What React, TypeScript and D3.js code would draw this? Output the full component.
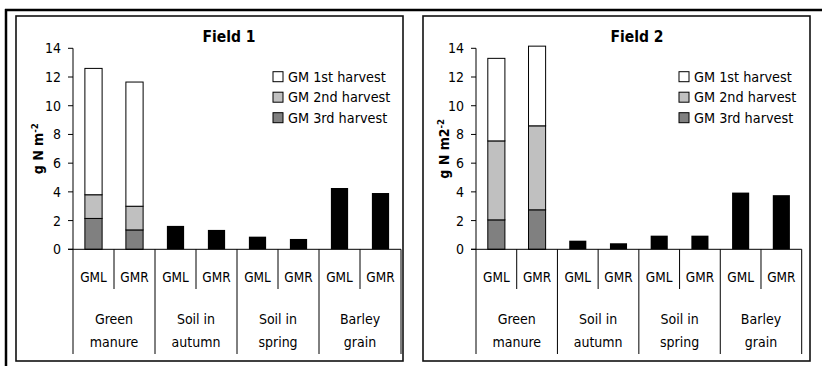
import React from 'react';
import * as d3 from 'd3';

const bars = ['GML', 'GMR', 'GML', 'GMR', 'GML', 'GMR', 'GML', 'GMR'];
const groups = [['Green', 'manure'], ['Soil in', 'autumn'], ['Soil in', 'spring'], ['Barley', 'grain']];
const legendLabels = ['GM 1st harvest', 'GM 2nd harvest', 'GM 3rd harvest'];
const yTicks = [0, 2, 4, 6, 8, 10, 12, 14];

// green manure stacks (GML, GMR), bottom to top: 3rd, 2nd, 1st harvest
const f1Harvest3 = [2.15, 1.35];
const f1Harvest2 = [1.65, 1.65];
const f1Harvest1 = [8.8, 8.65];
const f1SoilAutumn = [1.63, 1.35];
const f1SoilSpring = [0.88, 0.72];
const f1Barley = [4.27, 3.92];

const f2Harvest3 = [2.05, 2.75];
const f2Harvest2 = [5.5, 5.85];
const f2Harvest1 = [5.75, 5.55];
const f2SoilAutumn = [0.6, 0.42];
const f2SoilSpring = [0.95, 0.95];
const f2Barley = [3.95, 3.77];

const harvestColors = ['#ffffff', '#c0c0c0', '#808080'];
const FONT = "'DejaVu Sans Condensed', 'DejaVu Sans', sans-serif";

type PanelProps = {
  title: string;
  yLabel: string;
  yLabelSup: string;
  box: [number, number, number, number];
  plot: { left: number; right: number; top: number; bottom: number };
  titleX: number;
  yLabelX: number;
  legendX: number;
  h3: number[];
  h2: number[];
  h1: number[];
  soilAutumn: number[];
  soilSpring: number[];
  barley: number[];
};

function Panel(p: PanelProps) {
  const { plot } = p;
  const x = d3.scaleBand<number>().domain(d3.range(bars.length)).range([plot.left, plot.right]);
  const y = d3.scaleLinear().domain([0, 14]).range([plot.bottom, plot.top]);
  const slot = x.bandwidth();
  const bw = slot * 0.42;

  // stacked green manure bars
  const stackRows = [0, 1].map(i => ({ i, h3: p.h3[i], h2: p.h2[i], h1: p.h1[i] }));
  const series = d3.stack<any>().keys(['h3', 'h2', 'h1'])(stackRows);
  const stackFill = [harvestColors[2], harvestColors[1], harvestColors[0]];

  const solid = [...p.soilAutumn, ...p.soilSpring, ...p.barley];

  const [bx, by, bW, bH] = p.box;
  const sepBottom = 354;
  const subBottom = 289;

  return (
    <g>
      <rect x={bx} y={by} width={bW} height={bH} fill="#fff" stroke="#111" strokeWidth={1.6} />
      <text x={p.titleX} y={41.5} textAnchor="middle" fontFamily={FONT} fontWeight="bold" fontSize={15.5}>
        {p.title}
      </text>

      {/* y axis */}
      <line x1={plot.left} x2={plot.left} y1={y(14)} y2={y(0)} stroke="#000" strokeWidth={1} />
      {yTicks.map(t => (
        <g key={t}>
          <line x1={plot.left - 5} x2={plot.left} y1={y(t)} y2={y(t)} stroke="#000" />
          <text x={plot.left - 12} y={y(t) + 5} textAnchor="end" fontFamily={FONT} fontSize={14}>
            {t}
          </text>
        </g>
      ))}
      <text
        transform={`translate(${p.yLabelX},${(y(14) + y(0)) / 2}) rotate(-90)`}
        textAnchor="middle"
        fontFamily={FONT}
        fontWeight="bold"
        fontSize={14}
      >
        {p.yLabel}
        <tspan dy={-5} fontSize={9.5}>{p.yLabelSup}</tspan>
      </text>

      {/* bars */}
      {series.map((s, k) =>
        s.map((d, i) => (
          <rect
            key={`s${k}-${i}`}
            x={x(i)! + (slot - bw) / 2}
            y={y(d[1])}
            width={bw}
            height={y(d[0]) - y(d[1])}
            fill={stackFill[k]}
            stroke="#000"
            strokeWidth={1}
          />
        ))
      )}
      {solid.map((v, j) => (
        <rect
          key={`b${j}`}
          x={x(j + 2)! + (slot - bw) / 2}
          y={y(v)}
          width={bw}
          height={y(0) - y(v)}
          fill="#000"
        />
      ))}

      {/* x axis */}
      <line x1={plot.left - 5} x2={plot.right} y1={y(0)} y2={y(0)} stroke="#000" strokeWidth={1} />
      {d3.range(bars.length + 1).map(k => {
        const xx = k === bars.length ? plot.right : x(k)!;
        const long = k % 2 === 0;
        return (
          <line key={`sep${k}`} x1={xx} x2={xx} y1={y(0)} y2={long ? sepBottom : subBottom} stroke="#000" strokeWidth={1} />
        );
      })}
      {bars.map((b, i) => (
        <text key={`c${i}`} x={x(i)! + slot / 2} y={281.5} textAnchor="middle" fontFamily={FONT} fontSize={13.5}>
          {b}
        </text>
      ))}
      {groups.map((g, gi) => (
        <text key={`g${gi}`} x={x(gi * 2)! + slot} textAnchor="middle" fontFamily={FONT} fontSize={14}>
          <tspan x={x(gi * 2)! + slot} y={324}>{g[0]}</tspan>
          <tspan x={x(gi * 2)! + slot} y={346.5}>{g[1]}</tspan>
        </text>
      ))}

      {/* legend */}
      {legendLabels.map((l, i) => (
        <g key={l} transform={`translate(${p.legendX},${76.7 + i * 20.5})`}>
          <rect x={0} y={-5} width={10} height={10} fill={harvestColors[i]} stroke="#000" strokeWidth={1} />
          <text x={15} y={5} fontFamily={FONT} fontSize={14.3}>
            {l}
          </text>
        </g>
      ))}
    </g>
  );
}

export default function App() {
  return (
    <div style={{ position: 'fixed', left: 0, top: 0 }}>
      <svg width={822} height={366} style={{ display: 'block', background: '#fff' }}>
        <line x1={5} x2={822} y1={10} y2={10} stroke="#000" strokeWidth={2.5} />
        <line x1={6} x2={6} y1={9} y2={366} stroke="#000" strokeWidth={2.5} />
        <Panel
          title="Field 1"
          yLabel="g N m"
          yLabelSup="-2"
          box={[16, 16, 387, 345]}
          plot={{ left: 73, right: 401, top: 48.3, bottom: 249.3 }}
          titleX={229}
          yLabelX={43}
          legendX={273}
          h3={f1Harvest3}
          h2={f1Harvest2}
          h1={f1Harvest1}
          soilAutumn={f1SoilAutumn}
          soilSpring={f1SoilSpring}
          barley={f1Barley}
        />
        <Panel
          title="Field 2"
          yLabel="g N m2"
          yLabelSup="-2"
          box={[423, 16, 387, 345]}
          plot={{ left: 476, right: 801.7, top: 48.3, bottom: 249.3 }}
          titleX={637}
          yLabelX={449}
          legendX={679}
          h3={f2Harvest3}
          h2={f2Harvest2}
          h1={f2Harvest1}
          soilAutumn={f2SoilAutumn}
          soilSpring={f2SoilSpring}
          barley={f2Barley}
        />
      </svg>
    </div>
  );
}
